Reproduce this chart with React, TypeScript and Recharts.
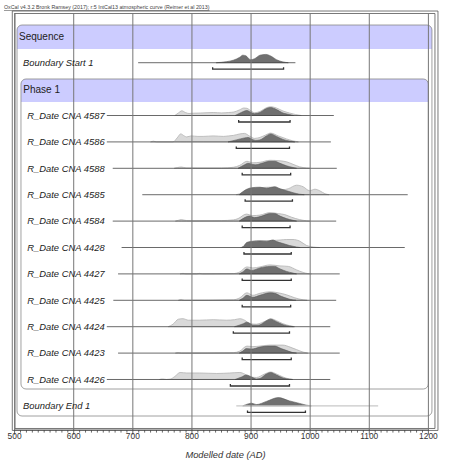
import React from 'react';
import {
  ComposedChart,
  Area,
  Line,
  XAxis,
  YAxis,
  ReferenceArea,
  ReferenceLine,
  Label,
} from 'recharts';

type Pt = [number, number]; // [calendar year AD, relative probability]

// ---- model structure, top to bottom ----
const rowLabels = [
  'Sequence',
  'Boundary Start 1',
  'Phase 1',
  'R_Date CNA 4587',
  'R_Date CNA 4586',
  'R_Date CNA 4588',
  'R_Date CNA 4585',
  'R_Date CNA 4584',
  'R_Date CNA 4428',
  'R_Date CNA 4427',
  'R_Date CNA 4425',
  'R_Date CNA 4424',
  'R_Date CNA 4423',
  'R_Date CNA 4426',
  'Boundary End 1',
];
const rowKinds = [
  'group', 'boundary', 'group',
  'date', 'date', 'date', 'date', 'date', 'date', 'date', 'date', 'date', 'date', 'date',
  'boundary',
];

// ---- calendar axis ----
const majorYears = [500, 600, 700, 800, 900, 1000, 1100, 1200];
const minorStep = 10;
const axisTitle = 'Modelled date (AD)';
const headerText =
  'OxCal v4.3.2 Bronk Ramsey (2017); r:5 IntCal13 atmospheric curve (Reimer et al 2013)';

// ---- unmodelled likelihoods (light) ----
const like4587: Pt[] = [[771, 0], [777, 2.5], [783, 4.7], [789, 3], [795, 2], [802, 2.3], [815, 2.5], [836, 3], [850, 2.6], [862, 3], [871, 3.5], [880, 5.5], [888, 7.5], [893, 7.2], [900, 4.5], [906, 2.8], [915, 4], [925, 7.5], [933, 8.8], [943, 7.5], [954, 4.5], [965, 2.5], [975, 1], [985, 0]];
const like4586: Pt[] = [[730, 0], [735, 0.7], [740, 0], [768, 0], [775, 4], [781, 8], [787, 6], [791, 5], [799, 6], [810, 5.5], [819, 5.5], [836, 6], [853, 5.5], [862, 6], [870, 6.5], [881, 8], [889, 8.5], [897, 6], [906, 3.5], [915, 4.5], [925, 7], [933, 8.8], [946, 6], [960, 3], [971, 1], [980, 0]];
const like4588: Pt[] = [[770, 0], [776, 0.8], [782, 1.3], [790, 0.4], [810, 0.3], [850, 0.3], [870, 1], [881, 3], [893, 7], [903, 5.5], [915, 6], [932, 8], [949, 7.5], [960, 6.5], [971, 4], [982, 1.5], [994, 0.3], [1000, 0]];
const like4585: Pt[] = [[875, 0], [881, 1], [891, 4], [898, 6], [915, 7], [932, 7.5], [943, 6], [954, 5], [963, 6], [977, 9.5], [988, 8], [999, 4], [1008, 5.5], [1016, 4], [1025, 1], [1032, 0]];
const like4584: Pt[] = [[772, 0], [777, 0.8], [782, 1.5], [791, 0.5], [800, 0.4], [850, 0.5], [870, 1.2], [878, 2.5], [892, 7], [903, 5.5], [915, 6], [932, 8.5], [946, 7.5], [957, 6.5], [968, 4], [982, 1.5], [994, 0.3], [1000, 0]];
const like4428: Pt[] = [[882, 0], [887, 1], [893, 5], [903, 6.5], [915, 7], [932, 7], [949, 7.5], [960, 8], [971, 8], [982, 6.5], [994, 2], [1005, 0.5], [1016, 0]];
const like4427: Pt[] = [[780, 0], [785, 0.5], [790, 0], [808, 0], [813, 0.5], [818, 0], [870, 0.3], [881, 2], [893, 7], [903, 6], [915, 7], [932, 9], [949, 8], [963, 7.5], [977, 4], [988, 1.5], [996, 0.3], [1002, 0]];
const like4425: Pt[] = [[777, 0], [782, 0.8], [787, 0], [870, 0.5], [881, 2.5], [893, 7.5], [903, 5], [915, 7], [932, 8.5], [946, 7.5], [960, 5.5], [974, 2.5], [988, 0.5], [995, 0]];
const like4424: Pt[] = [[760, 0], [768, 2.5], [777, 7.5], [785, 8], [794, 6.5], [813, 6.5], [836, 7], [858, 6.5], [872, 7], [881, 8], [889, 6.5], [898, 3], [909, 2.5], [918, 4], [926, 6], [933, 8], [943, 6], [954, 3], [965, 1], [974, 0]];
const like4423: Pt[] = [[772, 0], [777, 0.5], [782, 0], [870, 0.4], [881, 2], [893, 7], [903, 6.5], [915, 7], [932, 8], [954, 8], [966, 6], [977, 3.5], [988, 1], [996, 0]];
const like4426: Pt[] = [[745, 0], [750, 0.5], [757, 0], [763, 0.3], [771, 3], [780, 7], [791, 6.5], [813, 6.5], [842, 6], [864, 6.5], [881, 7], [889, 5.5], [898, 2.5], [909, 2], [923, 5.5], [933, 7.5], [943, 5.5], [954, 2.5], [965, 0.5], [971, 0]];

// ---- modelled posteriors (dark) ----
const postStart: Pt[] = [[841, 0], [858, 1], [870, 2.5], [881, 5.5], [886, 7.5], [891, 7], [899, 3], [906, 4], [915, 7.5], [925, 8.3], [934, 6.5], [943, 3], [954, 0.8], [963, 0]];
const post4587: Pt[] = [[873, 0], [880, 2], [887, 4], [893, 5], [900, 3], [906, 1.8], [915, 3], [926, 7], [933, 8], [943, 6], [954, 2.5], [965, 1], [972, 0]];
const post4586: Pt[] = [[861, 0], [875, 2], [889, 4], [895, 4.5], [902, 2.5], [908, 1.5], [915, 2], [926, 6], [933, 8], [943, 5.5], [954, 2.5], [965, 0.8], [974, 0]];
const post4588: Pt[] = [[878, 0], [889, 3.5], [895, 5], [903, 3.8], [908, 3.5], [918, 5], [932, 7], [940, 7], [949, 5], [960, 2.5], [971, 0.8], [977, 0]];
const post4585: Pt[] = [[880, 0], [891, 5], [901, 7], [915, 7.5], [926, 6.5], [940, 8], [949, 6], [960, 4], [971, 2], [982, 0.5], [990, 0]];
const post4584: Pt[] = [[880, 0], [891, 4], [897, 5], [906, 3.5], [918, 5], [932, 7.5], [940, 7.5], [949, 5], [960, 2.5], [971, 0.8], [977, 0]];
const post4428: Pt[] = [[884, 0], [887, 1], [893, 5], [903, 6], [915, 6.5], [926, 6], [937, 7.5], [943, 6], [954, 4], [965, 2], [977, 0.5], [983, 0]];
const post4427: Pt[] = [[880, 0], [886, 2], [893, 5], [901, 3.5], [915, 6], [932, 7.5], [940, 7.5], [949, 5], [960, 2.5], [971, 0.8], [977, 0]];
const post4425: Pt[] = [[880, 0], [886, 2], [893, 5], [903, 3], [915, 5], [932, 7.5], [940, 7], [951, 4], [963, 1.5], [971, 0.3], [976, 0]];
const post4424: Pt[] = [[872, 0], [880, 1.5], [887, 3], [893, 4.5], [900, 2.5], [903, 1.5], [912, 1.5], [920, 3.5], [926, 6], [933, 7.5], [943, 5], [954, 2], [965, 0.5], [972, 0]];
const post4423: Pt[] = [[880, 0], [886, 2], [892, 4.5], [901, 4], [915, 6], [929, 7], [940, 7], [951, 4.5], [963, 2], [971, 0.5], [977, 0]];
const post4426: Pt[] = [[873, 0], [884, 2.5], [892, 4.5], [901, 2.5], [909, 0.5], [915, 1], [926, 5.5], [933, 7], [943, 4.5], [954, 1.5], [965, 0.3], [970, 0]];
const postEnd: Pt[] = [[886, 0], [895, 2], [901, 2.7], [909, 1.3], [926, 4.5], [946, 8.3], [965, 5], [982, 2.5], [994, 0.7], [1002, 0]];

// one entry per row, aligned with rowLabels
const likelihoods: (Pt[] | null)[] = [
  null, null, null,
  like4587, like4586, like4588, like4585, like4584, like4428, like4427, like4425, like4424, like4423, like4426,
  null,
];
const posteriors: (Pt[] | null)[] = [
  null, postStart, null,
  post4587, post4586, post4588, post4585, post4584, post4428, post4427, post4425, post4424, post4423, post4426,
  postEnd,
];
// full extent of each distribution (baseline)
const spans: ([number, number] | null)[] = [
  null, [709, 975], null,
  [656, 1040], [656, 1035], [666, 1045], [716, 1165], [666, 1044], [681, 1160],
  [675, 1050], [667, 1044], [656, 1034], [675, 1050], [656, 1034],
  [875, 1115],
];
// 95.4% highest posterior density ranges
const hpd95: ([number, number] | null)[] = [
  null, [835, 955], null,
  [879, 966], [875, 965], [885, 967], [890, 970], [885, 966], [888, 968],
  [885, 968], [885, 967], [870, 965], [885, 968], [865, 965],
  [894, 992],
];

// ---- layout ----
const W = 450;
const H = 468;
const DENSITY_PER_ROW = 26.4; // probability units spanning one row
const Y_DOMAIN: [number, number] = [-0.883, 14.913];
const BRACKET_OFFSET = 0.246;
const BRACKET_TICK = 0.076;
const FONT = '"Liberation Sans", Arial, Helvetica, sans-serif';

const LIGHT_FILL = '#d9d9d9';
const LIGHT_EDGE = '#b3b3b3';
const DARK_FILL = '#707070';
const DARK_EDGE = '#575757';
const HEADER_FILL = '#ccccff';

const minorYears: number[] = [];
for (let y = majorYears[0]; y <= majorYears[majorYears.length - 1]; y += minorStep) minorYears.push(y);

const toBand = (pts: Pt[], slot: number) =>
  pts.map(([year, p]) => ({ year, band: [slot, slot - p / DENSITY_PER_ROW] }));

function YearTick(props: any) {
  const { x, y, payload } = props;
  const major = payload.value % 100 === 0;
  return (
    <g>
      <line x1={x} x2={x} y1={y} y2={y + (major ? 4.7 : 2.6)} stroke="#444" strokeWidth={0.8} />
      {major && (
        <text x={x} y={y + 9.2} textAnchor="middle" fontSize={8.4} fill="#333" fontFamily={FONT}>
          {payload.value}
        </text>
      )}
    </g>
  );
}

// row label drawn at the left edge of the plot, on the row's baseline
function RowTick(props: any) {
  const { y, payload } = props;
  const i = payload.value as number;
  const kind = rowKinds[i];
  const left = kind === 'group' ? (i === 0 ? 19 : 23.3) : kind === 'boundary' ? 23.1 : 27.3;
  const size = kind === 'group' ? 10 : 9.4;
  return (
    <text
      x={left}
      y={y}
      dy={size * 0.35}
      fontSize={size}
      fontStyle={kind === 'group' ? 'normal' : 'italic'}
      fill="#222"
      fontFamily={FONT}
      textAnchor="start"
    >
      {rowLabels[i]}
    </text>
  );
}

export default function App() {
  return (
    <div style={{ position: 'absolute', left: 0, top: 0, width: W, height: H, background: '#fff' }}>
      <ComposedChart
        width={W}
        height={H}
        margin={{ top: 13, right: 21.6, bottom: 8, left: 4.6 }}
      >
        <XAxis
          type="number"
          dataKey="year"
          domain={[500, 1200]}
          allowDataOverflow
          ticks={minorYears}
          interval={0}
          tickSize={0}
          tickMargin={0}
          tickLine={false}
          axisLine={{ stroke: '#444', strokeWidth: 0.8 }}
          height={30}
          tick={<YearTick />}
        >
          <Label
            content={(p: any) => {
              const vb = p.viewBox;
              return (
                <text
                  x={vb.x + vb.width / 2 + 4}
                  y={vb.y + 27.5}
                  textAnchor="middle"
                  fontSize={9.3}
                  fontStyle="italic"
                  fill="#333"
                  fontFamily={FONT}
                >
                  {axisTitle}
                </text>
              );
            }}
          />
        </XAxis>
        <YAxis
          type="number"
          domain={Y_DOMAIN}
          reversed
          allowDataOverflow
          ticks={rowLabels.map((_, i) => i)}
          interval={0}
          width={10}
          axisLine={false}
          tickLine={false}
          tickSize={0}
          tickMargin={0}
          tick={<RowTick />}
        />

        {/* double frame */}
        <ReferenceArea
          x1={496.1}
          x2={1216.2}
          y1={-0.958}
          y2={14.93}
          ifOverflow="visible"
          fill="none"
          stroke="#555"
          strokeWidth={0.8}
          label={(p: any) => (
            <text
              x={p.viewBox.x - 8.3}
              y={p.viewBox.y - 1.6}
              fontSize={5.3}
              fill="#444"
              fontFamily={FONT}
              textDecoration="underline"
            >
              {headerText}
            </text>
          )}
        />
        <ReferenceArea x1={500.7} x2={1211.1} y1={-0.864} y2={14.856} ifOverflow="visible" fill="none" stroke="#555" strokeWidth={0.8} />

        {/* Sequence group */}
        <ReferenceArea x1={504.1} x2={1206} y1={-0.428} y2={0.481} ifOverflow="visible" fill={HEADER_FILL} fillOpacity={1} stroke="none" radius={[5, 5, 0, 0]} />
        <ReferenceArea x1={504.1} x2={1206} y1={-0.428} y2={14.383} ifOverflow="visible" fill="none" stroke="#888" strokeWidth={0.8} radius={5} />
        {/* Phase group */}
        <ReferenceArea x1={510.8} x2={1199.8} y1={1.617} y2={2.489} ifOverflow="visible" fill={HEADER_FILL} fillOpacity={1} stroke="none" radius={[5, 5, 0, 0]} />
        <ReferenceArea x1={510.8} x2={1199.8} y1={1.617} y2={13.36} ifOverflow="visible" fill="none" stroke="#888" strokeWidth={0.8} radius={5} />

        {likelihoods.map((pts, slot) =>
          pts ? (
            <Area
              key={`like-${slot}`}
              data={toBand(pts, slot)}
              dataKey="band"
              type="monotone"
              fill={LIGHT_FILL}
              fillOpacity={1}
              stroke={LIGHT_EDGE}
              strokeWidth={0.8}
              dot={false}
              activeDot={false}
              isAnimationActive={false}
            />
          ) : null
        )}
        {posteriors.map((pts, slot) =>
          pts ? (
            <Area
              key={`post-${slot}`}
              data={toBand(pts, slot)}
              dataKey="band"
              type="monotone"
              fill={DARK_FILL}
              fillOpacity={1}
              stroke={DARK_EDGE}
              strokeWidth={0.6}
              dot={false}
              activeDot={false}
              isAnimationActive={false}
            />
          ) : null
        )}
        {spans.map((s, slot) =>
          s ? (
            <Line
              key={`span-${slot}`}
              data={[{ year: s[0], v: slot }, { year: s[1], v: slot }]}
              dataKey="v"
              type="linear"
              stroke={slot === rowLabels.length - 1 ? '#c8c8c8' : '#444'}
              strokeWidth={slot === rowLabels.length - 1 ? 1.3 : 0.8}
              dot={false}
              activeDot={false}
              isAnimationActive={false}
            />
          ) : null
        )}
        {hpd95.map((r, slot) =>
          r ? (
            <Line
              key={`hpd-${slot}`}
              data={[
                { year: r[0], v: slot + BRACKET_OFFSET - BRACKET_TICK },
                { year: r[0], v: slot + BRACKET_OFFSET },
                { year: r[1], v: slot + BRACKET_OFFSET },
                { year: r[1], v: slot + BRACKET_OFFSET - BRACKET_TICK },
              ]}
              dataKey="v"
              type="linear"
              stroke="#333"
              strokeWidth={1.3}
              dot={false}
              activeDot={false}
              isAnimationActive={false}
            />
          ) : null
        )}

        {majorYears.map((yr) => (
          <ReferenceLine key={`grid-${yr}`} x={yr} stroke="#777" strokeWidth={1} />
        ))}
      </ComposedChart>
    </div>
  );
}
